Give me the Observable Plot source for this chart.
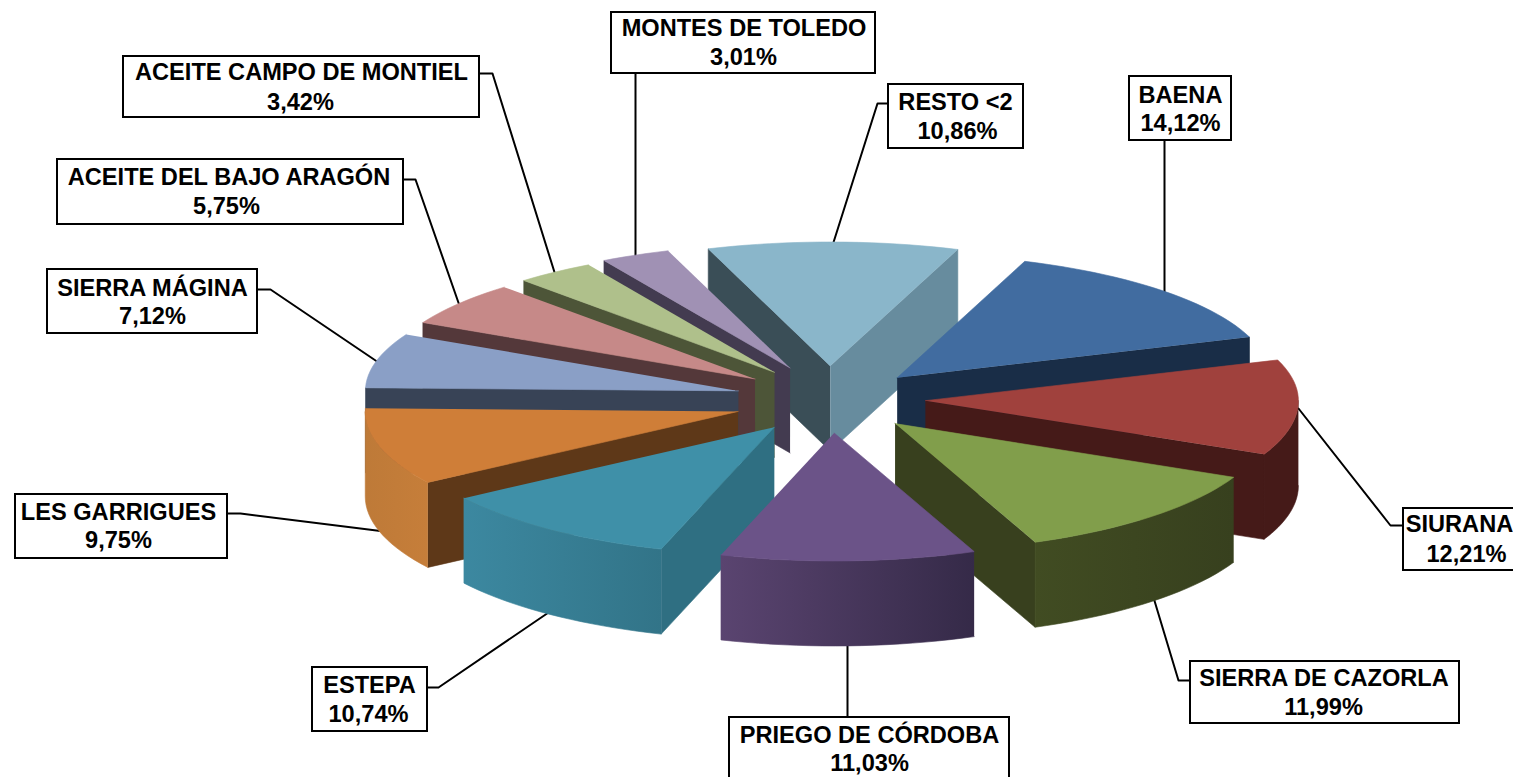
<!DOCTYPE html>
<html><head><meta charset="utf-8">
<script src="https://cdn.jsdelivr.net/npm/d3@7"></script>
<script src="https://cdn.jsdelivr.net/npm/@observablehq/plot@0.6"></script>
<style>html,body{margin:0;padding:0;background:#fff;overflow:hidden}svg{display:block}</style>
</head><body><div id="chart"></div>
<script>
// Data, clockwise from BAENA
const names = ["BAENA","SIURANA","SIERRA DE CAZORLA","PRIEGO DE CÓRDOBA","ESTEPA","LES GARRIGUES","SIERRA MÁGINA","ACEITE DEL BAJO ARAGÓN","ACEITE CAMPO DE MONTIEL","MONTES DE TOLEDO","RESTO <2"];
const shares = [14.12,12.21,11.99,11.03,10.74,9.75,7.12,5.75,3.42,3.01,10.86];
const topColors = ["#416CA0","#A0413D","#819E4B","#6B5388","#3F90A8","#CF7E38","#8A9FC6","#C68988","#AFC08B","#A091B4","#8AB6CA"];
const startWall = ["#192D47","#451A18","#38401E","#33294A","#2F6F82","#5E3818","#384356","#54383A","#4D5538","#433B50","#3A4E57"];
const endWall =   ["#192D47","#451A18","#38401E","#33294A","#2F6F82","#5E3818","#384356","#54383A","#4D5538","#433B50","#678C9E"];
const arcLeft =  ["#192D47","#451A18","#414C22","#5A4470","#3C88A0","#BE7A38","#384356","#54383A","#4D5538","#433B50","#678C9E"];
const arcRight = ["#192D47","#451A18","#37401E","#352A48","#327488","#C67E3A","#384356","#54383A","#4D5538","#433B50","#678C9E"];

// Pie shape
const firstAngle = 20, cx = 830, cy = 398.5, rx = 373, ryBack = 124, ryFront = 128, exp = 95, eyBack = 33, eyFront = 34, depth = 85;
const nudgeX = [-1,0,-1,0,1,-1,0,0,0,-1,-1];
const nudgeY = [2,0,0,0,1,3,0,0,0,-1,0];

// Label layout
const boxX1 = [1129,1403,1190,729,312,15,47,57,123,611,888];
const boxX2 = [1231,1530,1459,1009,427,227,257,403,479,875,1023];
const boxY1 = [76,508,661,717,667,494,269,159,56,12,84];
const boxY2 = [140,570,723,785,731,558,333,224,117,73,148];
const nameX = [1180,1459,1323.5,869,369,118,152,228.5,301,743.5,955];
const pctX  = [1180,1466,1323,869,368,118,152,226,300,743,957];
const nameY = [95,524,678,735,685,512,288,177,72,28,102];
const pctY  = [123,554,707,763,714,540,316,206,102,57,131];
const leaderX = [[1164,1164],[1403,1390,1298],[1190,1178,1153],[847,847],[427,438,551],[227,240,384],[257,270,378],[403,415,460],[479,492,555],[635,635],[888,877,832]];
const leaderY = [[140,295],[525,525,408],[680,680,597],[717,638],[687,687,610],[513,513,531],[289,289,362],[179,179,308],[73,73,275],[73,262],[103,103,245]];

const rad = d => d * Math.PI / 180;
let cum = 0;
const slices = shares.map((s, i) => {
  const a0 = firstAngle + cum * 3.6; cum += s;
  const a1 = firstAngle + cum * 3.6;
  const mid = rad((a0 + a1) / 2), c = Math.cos(mid);
  return {i, a0, a1, mid, ax: cx + exp * Math.sin(mid) + nudgeX[i], ay: cy - (c > 0 ? eyBack : eyFront) * c + nudgeY[i]};
});
const pt = (sl, deg, dz = 0) => {
  const c = Math.cos(rad(deg));
  return {x: sl.ax + rx * Math.sin(rad(deg)), y: sl.ay - (c > 0 ? ryBack : ryFront) * c + dz};
};
const arc = (sl, a, b, dz = 0) => {
  const n = Math.max(2, Math.ceil(Math.abs(b - a) / 2)), out = [];
  for (let k = 0; k <= n; k++) out.push(pt(sl, a + (b - a) * k / n, dz));
  return out;
};

const polygon = (pts, fill) => Plot.line(pts, {x: "x", y: "y", fill, stroke: fill, strokeWidth: 0.6, curve: "linear"});

const sliceMarks = [];
[...slices].sort((p, q) => Math.cos(q.mid) - Math.cos(p.mid)).forEach(sl => {
  const i = sl.i, apex = {x: sl.ax, y: sl.ay}, apexB = {x: sl.ax, y: sl.ay + depth};
  if (Math.sin(rad(sl.a0)) < 0) sliceMarks.push(polygon([apex, pt(sl, sl.a0), pt(sl, sl.a0, depth), apexB], startWall[i]));
  if (Math.sin(rad(sl.a1)) > 0) sliceMarks.push(polygon([apex, pt(sl, sl.a1), pt(sl, sl.a1, depth), apexB], endWall[i]));
  // the outer wall only shows on the near half of the ellipse
  const lo = Math.max(sl.a0, 90), hi = Math.min(sl.a1, 270);
  if (hi > lo) sliceMarks.push(polygon([...arc(sl, lo, hi), ...arc(sl, hi, lo, depth)], `url(#wall${i})`));
  sliceMarks.push(polygon([apex, ...arc(sl, sl.a0, sl.a1)], topColors[i]));
});

const defs = () => {
  const d = d3.create("svg:defs");
  names.forEach((_, i) => {
    const g = d.append("linearGradient").attr("id", `wall${i}`);
    g.append("stop").attr("offset", "0%").attr("stop-color", arcLeft[i]);
    g.append("stop").attr("offset", "100%").attr("stop-color", arcRight[i]);
  });
  return d.node();
};

const labels = names.map((name, i) => ({name, pct: shares[i].toFixed(2).replace(".", ",") + "%", x1: boxX1[i], x2: boxX2[i], y1: boxY1[i], y2: boxY2[i], nx: nameX[i], px: pctX[i], ny: nameY[i], py: pctY[i]}));
const leaders = names.flatMap((name, i) => leaderX[i].map((x, k) => ({name, x, y: leaderY[i][k]})));
const font = {fontFamily: "'Liberation Sans', Arial, sans-serif", fontWeight: "bold", fontSize: 23.6, fill: "#000", lineAnchor: "middle", textAnchor: "middle"};

const plot = Plot.plot({
  width: 1513, height: 777, margin: 0,
  x: {domain: [0, 1513], range: [0, 1513], axis: null},
  y: {domain: [0, 777], range: [0, 777], axis: null},
  style: {background: "#fff", overflow: "hidden"},
  marks: [
    defs,
    Plot.line(leaders, {x: "x", y: "y", z: "name", stroke: "#000", strokeWidth: 2, curve: "linear"}),
    ...sliceMarks,
    Plot.rect(labels, {x1: "x1", x2: "x2", y1: "y1", y2: "y2", fill: "#fff", stroke: "#000", strokeWidth: 2}),
    Plot.text(labels, {x: "nx", y: "ny", text: "name", ...font}),
    Plot.text(labels, {x: "px", y: "py", text: "pct", ...font})
  ]
});
document.getElementById("chart").append(plot);
</script></body></html>
